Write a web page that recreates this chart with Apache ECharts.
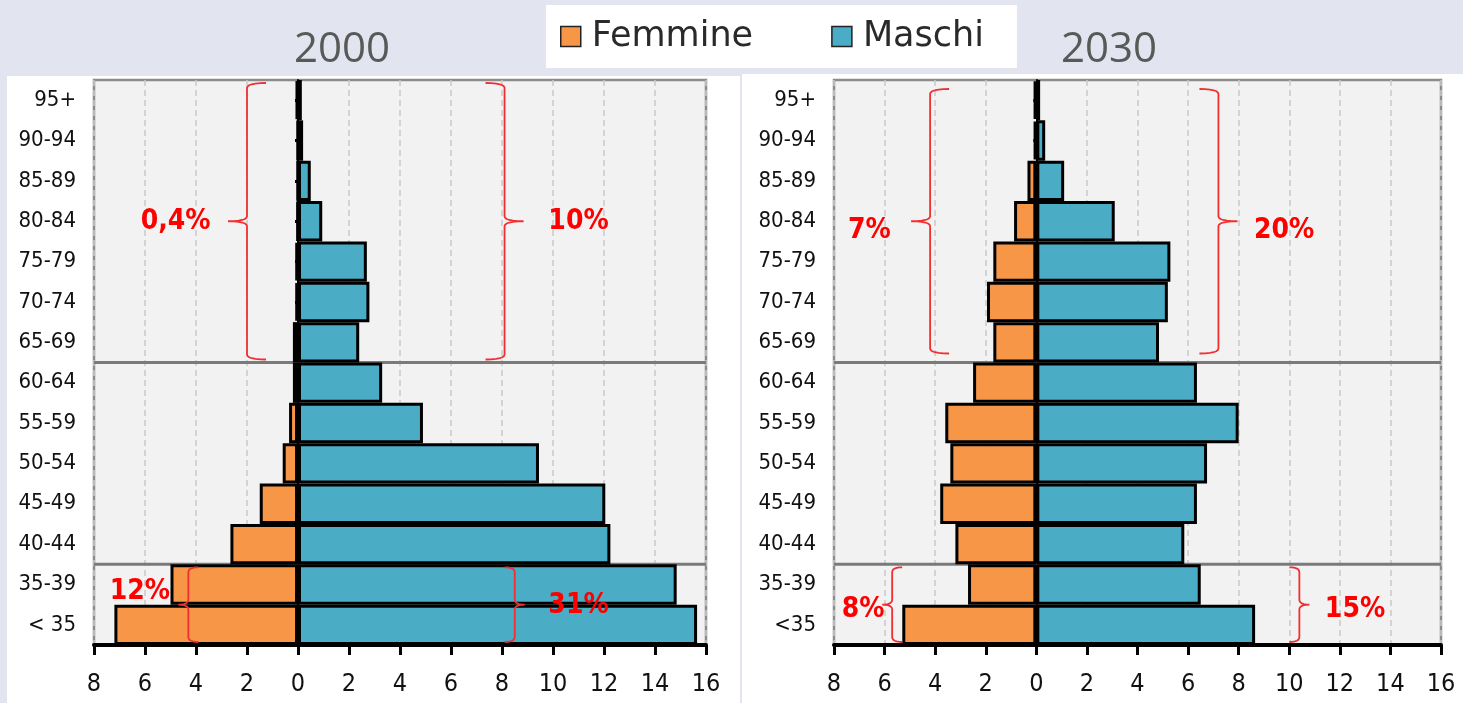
<!DOCTYPE html>
<html>
<head>
<meta charset="utf-8">
<script src="https://cdn.jsdelivr.net/npm/echarts/dist/echarts.min.js"></script>
<style>
  body { margin: 0; background: #e2e4ef; }
  .panel { position: absolute; background: #fff; }
  #chart { position: absolute; left: 0; top: 0; width: 1463px; height: 703px; }
</style>
</head>
<body>
<div class="panel" style="left:7px;top:76px;width:733px;height:627px"></div>
<div class="panel" style="left:742px;top:74px;width:721px;height:629px"></div>
<div id="chart"></div>
<script>
    // --- 1. dati (percentuali per classe d'età, dall'alto verso il basso) ---
    const ages2000 = ['95+', '90-94', '85-89', '80-84', '75-79', '70-74', '65-69', '60-64', '55-59', '50-54', '45-49', '40-44', '35-39', '< 35'];
    const ages2030 = ['95+', '90-94', '85-89', '80-84', '75-79', '70-74', '65-69', '60-64', '55-59', '50-54', '45-49', '40-44', '35-39', '<35'];

    const femmine2000 = [0.08, 0.02, 0.02, 0.03, 0.1, 0.1, 0.2, 0.2, 0.35, 0.6, 1.5, 2.65, 5.0, 7.2];
    const maschi2000  = [0.15, 0.2, 0.5, 0.95, 2.7, 2.8, 2.4, 3.3, 4.9, 9.45, 12.05, 12.25, 14.85, 15.65];
    const femmine2030 = [0.1, 0.1, 0.35, 0.88, 1.7, 1.95, 1.7, 2.5, 3.6, 3.4, 3.8, 3.2, 2.7, 5.3];
    const maschi2030  = [0.15, 0.35, 1.1, 3.1, 5.3, 5.2, 4.85, 6.35, 8.0, 6.75, 6.35, 5.85, 6.5, 8.65];

    const years = ['2000', '2030'];
    const xTicks = { min: -8, max: 16, step: 2 };
    // righe dopo cui passa la linea grigia di separazione
    const separatorRows = [6, 11];

    // graffe rosse: x in unità dell'asse, righe coperte, lato della punta
    const notes2000 = [
        { label: '0,4%', x: -2.0, textX: -4.8, from: 0, to: 6, dir: -1, dy: 0 },
        { label: '10%',  x: 8.1,  textX: 11.0, from: 0, to: 6, dir: 1,  dy: 0 },
        { label: '12%',  x: -4.3, textX: -6.2, from: 12, to: 13, dir: -1, dy: -13 },
        { label: '31%',  x: 8.5,  textX: 11.0, from: 12, to: 13, dir: 1,  dy: 1 }
    ];
    const notes2030 = [
        { label: '7%',  x: -4.2, textX: -6.6, from: 0, to: 6, dir: -1, dy: 9 },
        { label: '20%', x: 7.2,  textX: 9.8,  from: 0, to: 6, dir: 1,  dy: 9 },
        { label: '8%',  x: -5.7, textX: -6.85, from: 12, to: 13, dir: -1, dy: 5 },
        { label: '15%', x: 10.4, textX: 12.6, from: 12, to: 13, dir: 1,  dy: 5 }
    ];

    // --- 2. stile ---
    const ORANGE = '#f79646', BLUE = '#4bacc6';
    const NARROW = "'Liberation Sans Narrow', 'Arial Narrow', 'DejaVu Sans Condensed', sans-serif";

    const gridPos = [
        { left: 94, top: 80, width: 612, height: 565 },
        { left: 834, top: 80, width: 607, height: 565 }
    ];

    function buildOption() {
        const grid = [], xAxis = [], yAxis = [], series = [];
        const sets = [
            { ages: ages2000, fem: femmine2000, mal: maschi2000 },
            { ages: ages2030, fem: femmine2030, mal: maschi2030 }
        ];
        sets.forEach((s, i) => {
            grid.push({
                ...gridPos[i], show: true, backgroundColor: '#f2f2f2',
                borderColor: '#8c8c8c', borderWidth: 2.5
            });
            xAxis.push({
                type: 'value', gridIndex: i, min: xTicks.min, max: xTicks.max, interval: xTicks.step,
                axisLine: { show: true, onZero: false, lineStyle: { color: '#000', width: 4 } },
                axisTick: { show: true, length: 10, lineStyle: { color: '#000', width: 3 } },
                axisLabel: { formatter: v => Math.abs(v), color: '#111', fontSize: 25, fontFamily: NARROW, margin: 27 },
                splitLine: { show: true, lineStyle: { color: '#c9c9c9', width: 1.5, type: [6, 4] } }
            });
            // asse delle etichette (a sinistra)
            yAxis.push({
                type: 'category', gridIndex: i, data: s.ages, inverse: true,
                axisLine: { show: false, onZero: false }, axisTick: { show: false },
                axisLabel: { color: '#111', fontSize: 22, fontFamily: NARROW, margin: 18 }
            });
            // asse sullo zero (linea nera + puntini)
            yAxis.push({
                type: 'category', gridIndex: i, data: s.ages, inverse: true, position: 'left',
                axisLine: { show: true, onZero: true, lineStyle: { color: '#000', width: 2 } },
                axisTick: { show: true, alignWithLabel: true, length: 3, lineStyle: { color: '#000', width: 3 } },
                axisLabel: { show: false }
            });
            series.push({
                name: 'Femmine', type: 'bar', xAxisIndex: i, yAxisIndex: 2 * i, stack: 'p' + i,
                data: s.fem.map(v => -v), barCategoryGap: '0%',
                itemStyle: { color: ORANGE, borderColor: '#000', borderWidth: 3 }
            });
            series.push({
                name: 'Maschi', type: 'bar', xAxisIndex: i, yAxisIndex: 2 * i, stack: 'p' + i,
                data: s.mal, barCategoryGap: '0%',
                itemStyle: { color: BLUE, borderColor: '#000', borderWidth: 3 }
            });
        });

        return {
            animation: false,
            legend: {
                data: ['Femmine', 'Maschi'], left: 546, top: 5,
                padding: [14, 33, 14, 14], backgroundColor: '#fff',
                icon: 'rect', itemWidth: 20, itemHeight: 20, itemGap: 78,
                itemStyle: { borderColor: '#222', borderWidth: 1.5 },
                textStyle: { fontFamily: 'DejaVu Sans', fontSize: 35, color: '#2a2a2a', padding: [0, 0, 0, 6] }
            },
            grid, xAxis, yAxis, series
        };
    }

    // --- 3. graffe ---
    function quad(p0, c, p1, n) {
        const pts = [];
        for (let k = 1; k <= n; k++) {
            const t = k / n, u = 1 - t;
            pts.push([u * u * p0[0] + 2 * u * t * c[0] + t * t * p1[0], u * u * p0[1] + 2 * u * t * c[1] + t * t * p1[1]]);
        }
        return pts;
    }

    function bracePoints(x, y1, y2, dir, size) {
        const r = 5, ym = (y1 + y2) / 2;
        const hookX = x - dir * size, tipX = x + dir * size;
        let pts = [[hookX, y1]];
        pts = pts.concat(quad([hookX, y1], [x, y1], [x, y1 + r], 6));
        pts.push([x, ym - r]);
        pts = pts.concat(quad([x, ym - r], [x, ym], [tipX, ym], 6));
        pts = pts.concat(quad([tipX, ym], [x, ym], [x, ym + r], 6));
        pts.push([x, y2 - r]);
        pts = pts.concat(quad([x, y2 - r], [x, y2], [hookX, y2], 6));
        return pts;
    }

    function buildGraphics(chart) {
        const elements = [];
        [notes2000, notes2030].forEach((notes, i) => {
            const sIdx = 2 * i + 1;
            const px = (x, row) => chart.convertToPixel({ seriesIndex: sIdx }, [x, row]);
            const half = (px(0, 1)[1] - px(0, 0)[1]) / 2;

            separatorRows.forEach(r => {
                const y = px(0, r)[1] + half;
                elements.push({
                    type: 'line', z: 1,
                    shape: { x1: px(xTicks.min, r)[0], y1: y, x2: px(xTicks.max, r)[0], y2: y },
                    style: { stroke: '#7a7a7a', lineWidth: 3 }
                });
            });

            notes.forEach(n => {
                const x = px(n.x, n.from)[0];
                const big = n.to - n.from > 2;
                const inset = big ? (i === 0 ? 3 : 9) : 3;
                const y1 = px(n.x, n.from)[1] - half + inset;
                const y2 = px(n.x, n.to)[1] + half - inset;
                elements.push({
                    type: 'polyline', z: 50,
                    shape: { points: bracePoints(x, y1, y2, n.dir, big ? 19 : 10) },
                    style: { stroke: '#f03030', lineWidth: 1.8, fill: null }
                });
                elements.push({
                    type: 'text', z: 51,
                    x: px(n.textX, n.from)[0], y: (y1 + y2) / 2 + n.dy,
                    style: {
                        text: n.label, fill: '#f00', font: 'bold 28px ' + NARROW,
                        textAlign: 'center', textVerticalAlign: 'middle'
                    }
                });
            });
        });

        // titoli degli anni
        [342, 1109].forEach((cx, i) => {
            elements.push({
                type: 'text', z: 10, x: cx, y: 50,
                style: {
                    text: years[i], fill: '#595959', font: '42px "Open Sans", sans-serif',
                    textAlign: 'center', textVerticalAlign: 'middle'
                }
            });
        });
        return elements;
    }

    // --- 4. init ---
    window.onload = function () {
        const chart = echarts.init(document.getElementById('chart'));
        chart.setOption(buildOption());
        chart.setOption({ graphic: { elements: buildGraphics(chart) } });
    };
</script>
</body>
</html>
